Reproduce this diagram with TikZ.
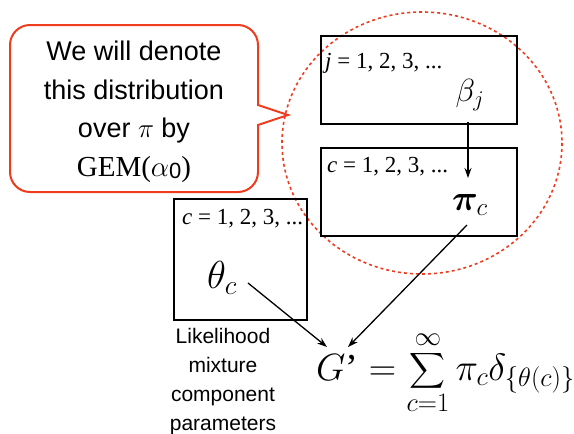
\RequirePackage{fix-cm}
\documentclass[tikz,border=0pt]{standalone}
\usepackage{amsmath,bm}
\usepackage{fontspec}
\setmainfont{Liberation Serif}
\newfontfamily\arialfont{Liberation Sans}
\usetikzlibrary{arrows.meta}
\definecolor{calloutred}{RGB}{240,60,30}
\tikzset{
  plate/.style={draw=black,line width=1.6pt},
  platelabel/.style={anchor=base west,inner sep=0pt,font=\fontsize{23}{26}\selectfont},
  var/.style={inner sep=0pt,font=\fontsize{32}{36}\selectfont},
  link/.style={draw=black,line width=1.3pt,-{Stealth[length=10pt,width=7pt]}},
}
\begin{document}
\begin{tikzpicture}[x=1pt,y=-1pt]
\useasboundingbox (0,0) rectangle (574,434);
% dashed ellipse
\draw[calloutred,line width=1.6pt,dash pattern=on 3pt off 3pt] (422,143) ellipse [x radius=140,y radius=131];
% callout
\draw[calloutred,line width=2pt,fill=white] (288,115) -- (258,105) [rounded corners=20]-- (258,25) -- (10,25) -- (10,192) -- (258,192) [sharp corners]-- (258,125) -- cycle;
\node[align=center,inner sep=0pt,font=\arialfont\fontsize{27}{38.5}\selectfont] (callout) at (134,112)
  {We will denote\\this distribution\\over $\pi$ by\\{\rmfamily\fontsize{29}{38.5}\selectfont GEM($\alpha$\raisebox{-2pt}{\arialfont\fontsize{22}{24}\selectfont 0})}};
% plates
\draw[plate] (321,36) rectangle (517,124);
\draw[plate] (321,148) rectangle (517,236);
\draw[plate] (174,199) rectangle (307,320);
\node[platelabel] (jlab) at (325,68) {\textit{j} = 1, 2, 3, ...};
\node[platelabel] (clab1) at (327,172) {\textit{c} = 1, 2, 3, ...};
\node[platelabel] (clab2) at (182,224) {\textit{c} = 1, 2, 3, ...};
\node[var] (beta) at (470,95) {$\beta_j$};
\node[var,font=\fontsize{36}{40}\selectfont] (pic) at (470,205) {$\bm{\pi}_c$};
\node[var,font=\fontsize{39}{44}\selectfont] (theta) at (222,278) {$\theta_c$};
% formula
\node[anchor=base west,inner sep=0pt,font=\fontsize{38}{44}\selectfont] (G) at (316,380)
  {$\displaystyle G\text{’} = \sum_{c=1}^{\infty} \pi_c \delta_{\{\theta(c)\}}$};
\coordinate (Gl) at (327,347);
\coordinate (Gr) at (348,347);
\coordinate (betaend) at (468,122);
\coordinate (pitop) at (468,178);
\coordinate (thetaend) at (248,283);
\coordinate (piend) at (467,225);
\draw[link] (betaend) -- (pitop);
\draw[link] (thetaend) -- (Gl);
\draw[link] (piend) -- (Gr);
% caption
\node[align=center,inner sep=0pt,font=\arialfont\fontsize{21}{29}\selectfont] (cap) at (223,382)
  {Likelihood\\mixture\\component\\parameters};
\end{tikzpicture}
\end{document}
